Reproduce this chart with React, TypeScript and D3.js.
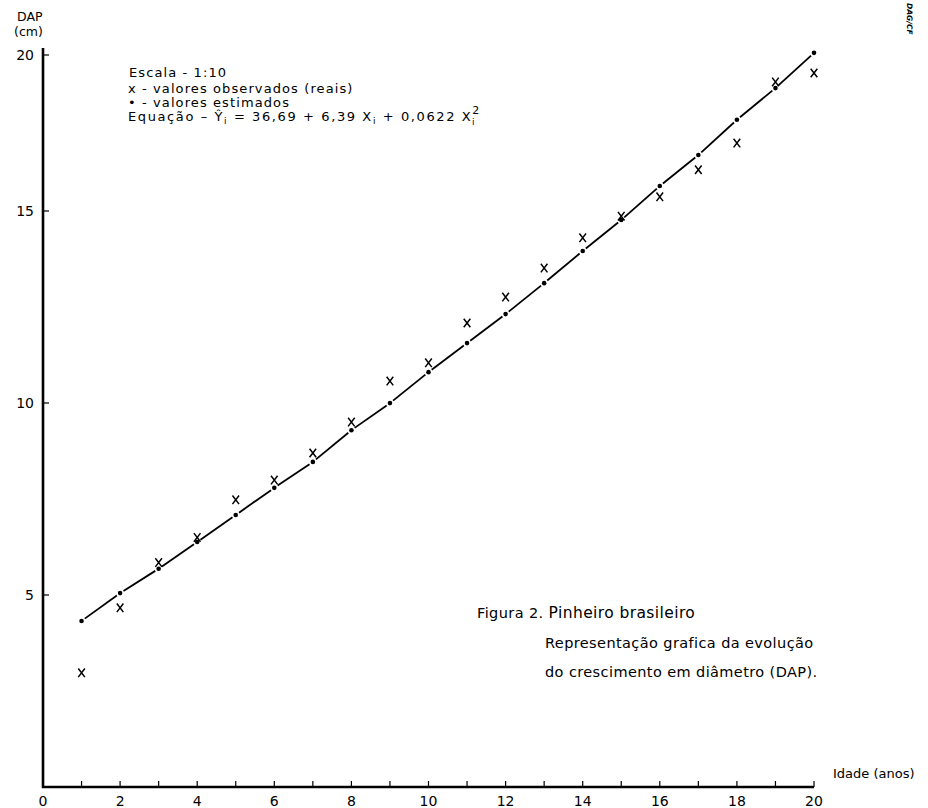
import React from 'react';
import * as d3 from 'd3';

// Idade (anos)
const ages = d3.range(1, 21);
// DAP observado (x) e estimado (•), em cm
const observed = [2.95, 4.63, 5.8, 6.45, 7.42, 7.93, 8.63, 9.43, 10.49, 10.96, 11.99, 12.66, 13.41, 14.19, 14.75, 15.25, 15.95, 16.64, 18.22, 18.45];
const estimated = [4.29, 5.01, 5.64, 6.33, 7.03, 7.73, 8.4, 9.22, 9.92, 10.72, 11.47, 12.22, 13.02, 13.85, 14.65, 15.53, 16.33, 17.24, 18.06, 18.97];
const xTickLabels = [0, 2, 4, 6, 8, 10, 12, 14, 16, 18, 20];
const yTickLabels = [5, 10, 15, 20];

const W = 928;
const H = 808;
const FONT = '"DejaVu Sans", Lato, sans-serif';

const App = () => {
  const x = d3.scaleLinear().domain([0, 20]).range([43, 814]);
  const y = d3.scaleLinear().domain([0, 20]).range([787, 13]);
  // hand drawn axis: the top tick sits lower than the data scale
  const yAxis = d3.scaleLinear().domain([0, 15, 20]).range([y(0), 211, 55]);

  const pts = ages.map((a, i) => [x(a), y(estimated[i])]);
  const gap = 4;
  const segments = pts.slice(0, -1).map((p, i) => {
    const q = pts[i + 1];
    const dx = q[0] - p[0];
    const dy = q[1] - p[1];
    const len = Math.hypot(dx, dy);
    const ux = dx / len;
    const uy = dy / len;
    return [p[0] + ux * gap, p[1] + uy * gap, q[0] - ux * gap, q[1] - uy * gap];
  });

  return (
    <svg width={W} height={H} style={{ position: 'absolute', left: 0, top: 0, background: '#fff' }} fontFamily={FONT}>
      <rect width={W} height={H} fill="#fff" />

      {/* axes */}
      <line x1={x(0)} y1={y(0) + 1} x2={x(0)} y2={yAxis(20) - 7} stroke="#000" strokeWidth={2.6} />
      <line x1={x(0) - 1} y1={y(0)} x2={x(20)} y2={y(0)} stroke="#000" strokeWidth={2.6} />

      {d3.range(1, 21).map(t => (
        <line key={t} x1={x(t)} x2={x(t)} y1={y(0)} y2={y(0) - 6} stroke="#000" strokeWidth={1.2} />
      ))}
      {xTickLabels.map(t => (
        <text key={t} x={x(t)} y={806} fontSize={14} textAnchor="middle" fill="#000">{t}</text>
      ))}

      {yTickLabels.map(t => (
        <g key={t}>
          <line x1={x(0)} x2={x(0) + 6} y1={yAxis(t)} y2={yAxis(t)} stroke="#000" strokeWidth={1.2} />
          <text x={x(0) - 9} y={yAxis(t) + 5} fontSize={14} textAnchor="end" fill="#000">{t}</text>
        </g>
      ))}

      <text x={17} y={21} fontSize={12.5} fill="#000">DAP</text>
      <text x={14} y={36} fontSize={12.5} fill="#000">(cm)</text>
      <text x={833} y={778} fontSize={13} fill="#000">Idade (anos)</text>

      {/* fitted curve */}
      {segments.map((s, i) => (
        <line key={i} x1={s[0]} y1={s[1]} x2={s[2]} y2={s[3]} stroke="#000" strokeWidth={1.8} />
      ))}

      {/* estimated values */}
      {pts.map((p, i) => (
        <circle key={i} cx={p[0]} cy={p[1]} r={2.3} fill="#000" />
      ))}

      {/* observed values */}
      {ages.map((a, i) => (
        <path
          key={a}
          transform={`translate(${x(a)},${y(observed[i])})`}
          d="M-3.3,-4.3L3.3,4.3M-3.3,4.3L3.3,-4.3"
          stroke="#000"
          strokeWidth={1.5}
          fill="none"
        />
      ))}

      {/* legend */}
      <g fontSize={13} fill="#000" letterSpacing={1.1} style={{ whiteSpace: 'pre' }}>
        <text x={129} y={77}>Escala - 1:10</text>
        <text x={128} y={93}>x  -  valores  observados  (reais)</text>
        <text x={128} y={107}>•  -  valores  estimados</text>
        <text x={128} y={121} letterSpacing={1.6}>
          Equação  –  Ŷ<tspan fontSize={9} dy={3}>i</tspan>
          <tspan dy={-3}>  =  36,69  +  6,39  X</tspan>
          <tspan fontSize={9} dy={3}>i</tspan>
          <tspan dy={-3}>  +  0,0622  X</tspan>
          <tspan fontSize={11} dy={-7}>2</tspan>
          <tspan fontSize={9} dx={-9} dy={11}>i</tspan>
        </text>
      </g>

      {/* caption */}
      <g fill="#000" style={{ whiteSpace: 'pre' }} letterSpacing={0.4}>
        <text x={477} y={618} fontSize={14.5}>Figura 2.  <tspan fontSize={15.5}>Pinheiro brasileiro</tspan></text>
        <text x={545} y={648} fontSize={14.5}>Representação grafica da evolução</text>
        <text x={545} y={677} fontSize={14.5}>do crescimento em diâmetro (DAP).</text>
      </g>

      <text
        transform="translate(907,3) rotate(90)"
        fontSize={7.5}
        fontStyle="italic"
        fontWeight="bold"
        fill="#000"
      >
        DAG/CF
      </text>
    </svg>
  );
};

export default App;
